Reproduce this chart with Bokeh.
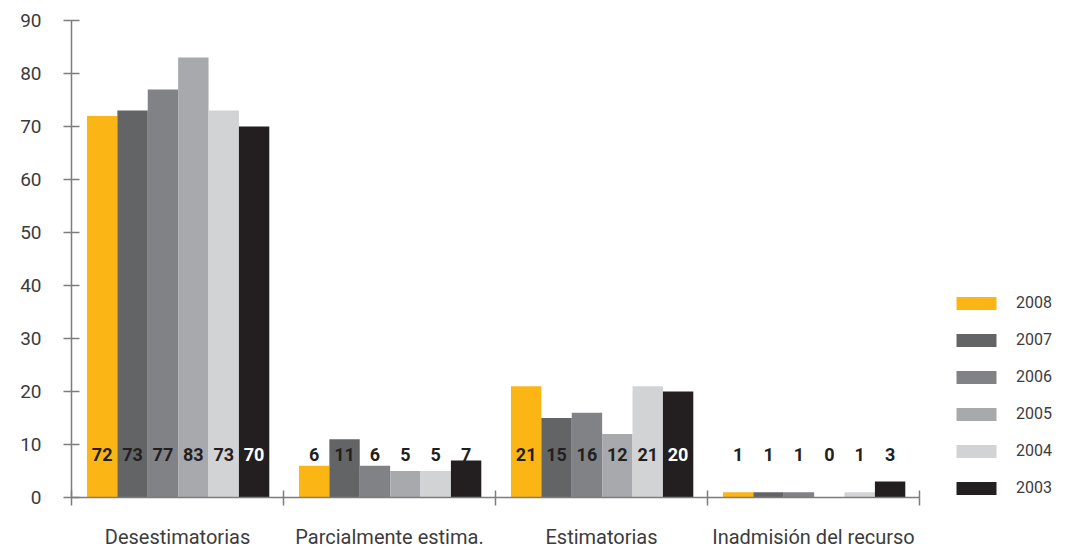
from bokeh.plotting import figure
from bokeh.models import Range1d, FixedTicker, Legend, LegendItem, ColumnDataSource
from bokeh.embed import file_html
from bokeh.resources import INLINE
from bokeh.core.properties import value

categories = ["Desestimatorias", "Parcialmente estima.", "Estimatorias", "Inadmisión del recurso"]
years = ["2008", "2007", "2006", "2005", "2004", "2003"]
v2008 = [72, 6, 21, 1]
v2007 = [73, 11, 15, 1]
v2006 = [77, 6, 16, 1]
v2005 = [83, 5, 12, 0]
v2004 = [73, 5, 21, 1]
v2003 = [70, 7, 20, 3]
series = [v2008, v2007, v2006, v2005, v2004, v2003]
y_ticks = [0, 10, 20, 30, 40, 50, 60, 70, 80, 90]

colors = ["#fbb615", "#636466", "#808285", "#a7a9ac", "#d1d3d4", "#231f20"]
FONT = "Roboto"
AXIS_COLOR = "#7d7d7d"
TEXT_COLOR = "#3c3c3c"

n_cat = len(categories)
n_series = len(years)
group_start = 0.073
group_span = 0.86
bar_w = group_span / n_series
label_y = 8.2

unit_px = 212.0          # pixels per category band
frame_w = 989
frame_h = 477
x_end = frame_w / unit_px

p = figure(frame_width=frame_w, frame_height=frame_h, output_backend="svg", toolbar_location=None,
           x_range=Range1d(0, x_end), y_range=Range1d(0, 90),
           min_border_left=71, min_border_top=20, min_border_bottom=0, min_border_right=0)
p.outline_line_color = None
p.xgrid.grid_line_color = None
p.ygrid.grid_line_color = None
p.background_fill_color = "white"
p.border_fill_color = "white"

items = []
for j, (yr, vals, col) in enumerate(zip(years, series, colors)):
    xs = [i + group_start + bar_w * (j + 0.5) for i in range(n_cat)]
    src = ColumnDataSource(dict(x=xs, top=vals, lab=[str(v) for v in vals],
                                tc=[("white" if (j == n_series - 1 and v > label_y + 1) else "#231f20") for v in vals],
                                ly=[label_y] * len(vals)))
    r = p.vbar(x="x", top="top", width=bar_w, bottom=0, source=src,
               fill_color=col, line_color=None)
    p.text(x="x", y="ly", text="lab", source=src, text_color="tc",
           text_align="center", text_baseline="middle",
           text_font=value(FONT), text_font_size="18px", text_font_style="bold")
    items.append(LegendItem(label=yr, renderers=[r]))

legend = Legend(items=items, location=(880, 0), orientation="vertical",
                glyph_width=50, glyph_height=16, label_height=16, spacing=18,
                label_standoff=15, padding=0, margin=0,
                border_line_color=None, background_fill_alpha=0,
                label_text_font=FONT, label_text_font_size="16px",
                label_text_color=TEXT_COLOR)
p.add_layout(legend, "center")

# y axis
ya = p.yaxis[0]
ya.ticker = FixedTicker(ticks=y_ticks)
ya.axis_line_color = AXIS_COLOR
ya.axis_line_width = 1.5
ya.major_tick_line_color = AXIS_COLOR
ya.major_tick_line_width = 1.5
ya.major_tick_in = 8
ya.major_tick_out = 8
ya.minor_tick_line_color = None
ya.major_label_text_font = FONT
ya.major_label_text_font_size = "19px"
ya.major_label_text_color = TEXT_COLOR
ya.major_label_standoff = 22

# x axis: category labels at centres, tick marks at boundaries
xa = p.xaxis[0]
centers = [i + 0.5 for i in range(n_cat)]
bounds = [float(i) for i in range(n_cat + 1)]
xa.bounds = (0, n_cat)
xa.ticker = FixedTicker(ticks=centers, minor_ticks=bounds)
xa.major_label_overrides = {c: name for c, name in zip(centers, categories)}
xa.axis_line_color = AXIS_COLOR
xa.axis_line_width = 1.5
xa.major_tick_line_color = None
xa.major_tick_in = 0
xa.major_tick_out = 0
xa.minor_tick_line_color = AXIS_COLOR
xa.minor_tick_line_width = 1.5
xa.minor_tick_in = 7
xa.minor_tick_out = 8
xa.major_label_text_font = FONT
xa.major_label_text_font_size = "20px"
xa.major_label_text_color = TEXT_COLOR
xa.major_label_standoff = 19

open("out.html", "w").write(file_html(p, INLINE))
